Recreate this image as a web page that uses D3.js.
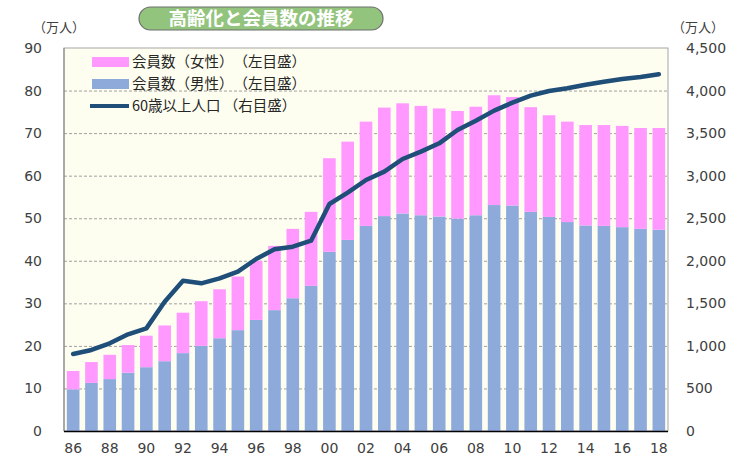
<!DOCTYPE html>
<html>
<head>
<meta charset="utf-8">
<script src="https://cdn.jsdelivr.net/npm/d3@7"></script>
<style>
  body { margin: 0; background: #fff; }
</style>
</head>
<body>
<div id="chart"></div>
<script>
// Years (two-digit labels), membership (万人) and 60+ population (万人)
const years = ["86","87","88","89","90","91","92","93","94","95","96","97","98","99","00","01","02",
               "03","04","05","06","07","08","09","10","11","12","13","14","15","16","17","18"];
const maleMembers = [9.8,11.3,12.2,13.7,15.0,16.4,18.3,20.0,21.8,23.7,26.1,28.4,31.2,34.1,42.1,44.9,48.2,
                     50.5,51.1,50.7,50.4,49.9,50.7,53.1,53.0,51.5,50.3,49.1,48.3,48.2,47.9,47.5,47.3];
const totalMembers = [14.1,16.2,17.9,20.2,22.4,24.8,27.8,30.5,33.3,36.3,40.0,43.5,47.5,51.5,64.1,68.0,72.7,
                      76.0,77.0,76.4,75.8,75.2,76.2,78.9,78.5,76.1,74.2,72.7,71.9,71.9,71.7,71.2,71.2];
const femaleMembers = totalMembers.map((t, i) => +(t - maleMembers[i]).toFixed(1));
const pop60 = [905,952,1030,1136,1206,1519,1766,1735,1794,1872,2021,2135,2166,2236,2667,2800,2949,
               3047,3196,3282,3380,3537,3646,3764,3858,3940,3995,4027,4069,4104,4136,4160,4191];
const leftTicks = [0,10,20,30,40,50,60,70,80,90];
const rightTicks = [0,500,1000,1500,2000,2500,3000,3500,4000,4500];
const legendItems = [
  { label: "会員数（女性）　（左目盛）", color: "#ff99ff", type: "rect" },
  { label: "会員数（男性）　（左目盛）", color: "#8eaadb", type: "rect" },
  { label: "60歳以上人口 （右目盛）", color: "#1f4e79", type: "line" }
];

const W = 730, H = 466;
const FONT = "'DejaVu Sans', Verdana, sans-serif";
const FONT_JP = "'Noto Sans CJK JP', sans-serif";
const m = { top: 48, right: 62, bottom: 35, left: 64 };
const iw = W - m.left - m.right, ih = H - m.top - m.bottom;

const svg = d3.select("#chart").append("svg").attr("width", W).attr("height", H);

const x = d3.scaleBand().domain(years).range([m.left, m.left + iw]).paddingInner(0.31).paddingOuter(0.155);
const yL = d3.scaleLinear().domain([0, 90]).range([m.top + ih, m.top]);
const yR = d3.scaleLinear().domain([0, 4500]).range([m.top + ih, m.top]);

// plot background
svg.append("rect").attr("x", m.left).attr("y", m.top).attr("width", iw).attr("height", ih)
  .attr("fill", "#fefef0").attr("stroke", "#a6a6a6").attr("stroke-width", 1);

// gridlines
svg.append("g").selectAll("line").data(leftTicks.filter(d => d > 0 && d < 90)).join("line")
  .attr("x1", m.left).attr("x2", m.left + iw)
  .attr("y1", d => yL(d) + 0.5).attr("y2", d => yL(d) + 0.5)
  .attr("stroke", "#a0a0a0").attr("stroke-dasharray", "3,2").attr("stroke-width", 1);

// bars: male bottom, female stacked
const bars = svg.append("g");
bars.selectAll(".male").data(years).join("rect").attr("class", "male")
  .attr("x", d => x(d)).attr("width", x.bandwidth())
  .attr("y", (d, i) => yL(maleMembers[i])).attr("height", (d, i) => yL(0) - yL(maleMembers[i]))
  .attr("fill", "#8eaadb");
bars.selectAll(".female").data(years).join("rect").attr("class", "female")
  .attr("x", d => x(d)).attr("width", x.bandwidth())
  .attr("y", (d, i) => yL(maleMembers[i] + femaleMembers[i])).attr("height", (d, i) => yL(maleMembers[i]) - yL(maleMembers[i] + femaleMembers[i]))
  .attr("fill", "#ff99ff");

// 60+ population line
const line = d3.line().x((d, i) => x(years[i]) + x.bandwidth() / 2).y(d => yR(d));
svg.append("path").datum(pop60).attr("d", line)
  .attr("fill", "none").attr("stroke", "#1f4e79").attr("stroke-width", 4.5)
  .attr("stroke-linejoin", "round").attr("stroke-linecap", "round");

// left axis line + bottom axis line
svg.append("line").attr("x1", m.left).attr("x2", m.left).attr("y1", m.top).attr("y2", m.top + ih)
  .attr("stroke", "#808080");
svg.append("line").attr("x1", m.left).attr("x2", m.left + iw).attr("y1", m.top + ih + 0.5).attr("y2", m.top + ih + 0.5)
  .attr("stroke", "#000").attr("stroke-width", 1.5);

// axis labels
const axL = d3.axisLeft(yL).tickValues(leftTicks).tickSize(0).tickPadding(22);
svg.append("g").attr("transform", `translate(${m.left},0)`).call(axL)
  .call(g => g.select(".domain").remove())
  .selectAll("text").attr("font-family", FONT).attr("font-size", 14).attr("fill", "#404040");

const axR = d3.axisRight(yR).tickValues(rightTicks).tickSize(0).tickPadding(18).tickFormat(d3.format(","));
svg.append("g").attr("transform", `translate(${m.left + iw},0)`).call(axR)
  .call(g => g.select(".domain").remove())
  .selectAll("text").attr("font-family", FONT).attr("font-size", 14).attr("fill", "#404040");

const axB = d3.axisBottom(x).tickValues(years.filter((d, i) => i % 2 === 0)).tickSize(0).tickPadding(12);
svg.append("g").attr("transform", `translate(0,${m.top + ih})`).call(axB)
  .call(g => g.select(".domain").remove())
  .selectAll("text").attr("font-family", FONT).attr("font-size", 14).attr("fill", "#404040");

// unit labels
svg.append("text").attr("x", 33).attr("y", 32).attr("font-family", FONT_JP).attr("font-size", 13)
  .attr("fill", "#404040").text("（万人）");
svg.append("text").attr("x", 672).attr("y", 32).attr("font-family", FONT_JP).attr("font-size", 13)
  .attr("fill", "#404040").text("（万人）");

// title pill
svg.append("rect").attr("x", 139).attr("y", 7).attr("width", 244).attr("height", 23).attr("rx", 11.5)
  .attr("fill", "#93c47d").attr("stroke", "#6f6f6f").attr("stroke-width", 1.2);
svg.append("text").attr("x", 261).attr("y", 25).attr("text-anchor", "middle")
  .attr("font-family", FONT_JP).attr("font-weight", "bold").attr("font-size", 18.5)
  .attr("fill", "#fff").text("高齢化と会員数の推移");

// legend
const lg = svg.append("g");
legendItems.forEach((it, i) => {
  const cy = 62 + i * 22;
  if (it.type === "rect") {
    lg.append("rect").attr("x", 92).attr("y", cy - 5).attr("width", 37).attr("height", 10).attr("fill", it.color);
  } else {
    lg.append("line").attr("x1", 90).attr("x2", 129).attr("y1", cy).attr("y2", cy)
      .attr("stroke", it.color).attr("stroke-width", 4);
  }
  lg.append("text").attr("x", 132).attr("y", cy + 5).attr("font-family", FONT_JP).attr("font-size", 14.5)
    .attr("fill", "#262626").text(it.label);
});
</script>
</body>
</html>
